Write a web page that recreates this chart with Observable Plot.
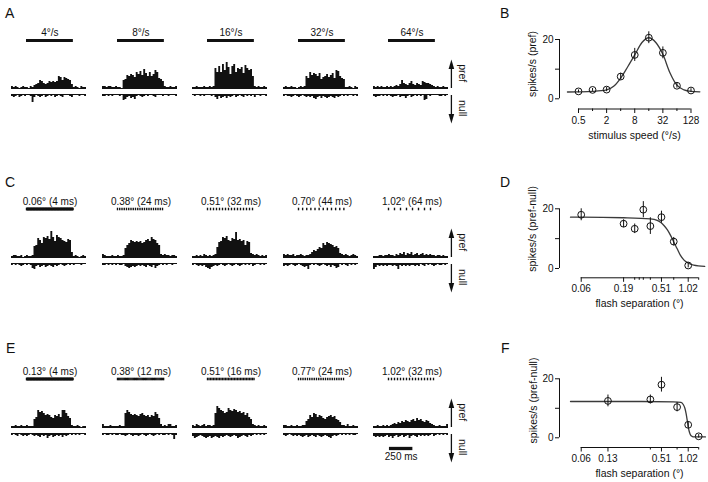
<!DOCTYPE html>
<html><head><meta charset="utf-8">
<script src="https://cdn.jsdelivr.net/npm/d3@7"></script>
<script src="https://cdn.jsdelivr.net/npm/@observablehq/plot@0.6"></script>
<style>
body{margin:0;background:#fff;}
#fig{position:relative;width:708px;height:482px;overflow:hidden;font-family:"Liberation Sans",Arial,Helvetica,sans-serif;color:#111;background:#fff}
.letter{position:absolute;font-size:14px;line-height:1;color:#111}
</style></head><body><div id="fig"></div>
<script>
// ---------------- data ----------------
const binMs = 20, tMax = 800, stimOn = 160, stimOff = 660;

const labelsA = ["4°/s","8°/s","16°/s","32°/s","64°/s"];
const prefA = [
 [2,1,2,1,0,1,2,1,1,0,2,1,3,4,5,8,7,5,4,5,7,6,7,6,7,12,11,8,11,10,9,8,4,1,2,1,0,2,1,1],
 [2,2,1,2,2,1,1,2,1,1,0,8,9,13,12,14,13,11,16,14,17,13,19,15,12,16,12,14,18,16,10,9,7,2,1,1,2,1,1,2],
 [1,1,2,1,1,1,2,1,1,2,1,2,20,16,22,16,24,18,26,21,14,22,24,16,20,19,21,15,23,20,18,19,12,2,1,2,1,1,2,1],
 [1,2,1,1,2,1,1,0,1,2,1,2,12,10,16,13,15,14,12,15,9,11,12,14,11,13,15,10,18,17,12,10,9,1,1,2,1,0,2,1],
 [2,1,2,1,2,1,1,2,1,2,1,2,3,2,4,8,5,4,3,5,7,4,3,5,4,3,7,6,5,5,4,3,2,1,2,1,1,2,1,1]
];
const nullA = [
 [2,3,2,1,3,2,1,2,0,1,2,8,3,1,2,3,2,1,3,2,1,2,1,3,2,1,2,3,1,0,1,2,3,1,0,1,2,1,1,2],
 [2,2,1,2,1,2,1,0,1,2,1,6,5,3,2,4,3,5,2,1,2,3,2,1,2,1,1,2,3,1,0,1,2,1,0,2,1,0,1,2],
 [1,2,1,1,2,1,2,1,0,1,2,1,3,5,2,4,3,2,4,2,3,2,1,3,2,1,2,3,1,2,1,2,1,3,1,0,2,1,1,2],
 [2,1,2,2,3,2,1,2,3,2,1,2,3,2,3,2,4,5,3,2,4,2,3,4,3,2,3,4,2,3,2,1,2,1,2,0,1,2,1,2],
 [2,3,2,2,1,2,1,2,1,2,3,2,2,1,3,2,2,4,2,1,3,2,1,2,1,2,1,6,5,1,2,0,1,0,1,2,2,0,2,1]
];

const labelsC = ["0.06° (4 ms)","0.38° (24 ms)","0.51° (32 ms)","0.70° (44 ms)","1.02° (64 ms)"];
const delaysC = [4,24,32,44,64];
const prefC = [
 [1,2,2,1,1,2,0,1,2,1,1,2,11,12,19,17,14,20,19,21,18,26,20,16,22,20,19,17,16,15,18,17,5,1,2,1,0,1,2,1],
 [3,2,1,1,1,2,1,1,2,1,1,2,9,12,14,17,16,15,16,15,16,14,15,17,18,16,20,18,17,14,12,3,2,3,2,2,1,2,2,1],
 [1,1,2,1,2,1,3,2,1,2,1,2,3,10,15,16,20,19,21,17,16,19,18,25,17,18,16,17,12,16,15,4,3,2,3,2,1,2,1,2],
 [3,2,3,2,2,3,1,2,2,3,2,1,2,2,3,5,7,6,8,10,9,14,12,15,14,13,12,10,11,9,4,3,2,3,2,1,2,3,2,1],
 [1,1,1,2,2,1,2,2,3,2,2,1,3,2,4,3,5,2,4,3,5,2,3,4,2,3,4,2,3,2,3,2,2,1,2,2,1,2,1,1]
];
const nullC = [
 [2,1,2,1,2,3,2,1,2,1,2,5,6,3,2,4,3,2,4,3,2,3,4,2,3,2,1,2,3,2,1,2,1,2,1,0,1,2,1,1],
 [2,2,1,2,1,2,1,2,1,2,2,1,3,4,5,4,3,4,3,2,3,2,3,4,2,3,4,2,5,3,2,1,2,1,2,1,0,2,1,1],
 [2,1,2,3,2,3,2,4,5,6,4,3,2,3,2,1,2,3,2,1,2,3,2,1,2,3,2,1,2,1,2,1,3,2,1,1,2,1,2,1],
 [3,2,3,2,1,2,3,2,1,2,3,4,3,6,2,1,2,1,2,3,2,1,2,3,2,4,2,3,5,4,1,2,1,2,3,1,2,1,2,1],
 [6,4,2,3,2,3,2,3,2,2,3,2,3,6,2,3,2,3,2,3,2,2,3,2,3,1,2,3,1,2,1,2,3,2,1,2,2,1,2,1]
];

const labelsE = ["0.13° (4 ms)","0.38° (12 ms)","0.51° (16 ms)","0.77° (24 ms)","1.02° (32 ms)"];
const delaysE = [4,12,16,24,32];
const prefE = [
 [1,1,2,1,1,2,1,1,2,1,1,1,8,10,17,15,16,14,12,13,12,10,9,12,11,13,10,17,17,14,11,9,2,1,1,2,1,0,1,1],
 [3,1,1,1,2,1,1,1,1,2,1,1,14,17,15,13,12,13,12,11,13,14,12,11,12,10,12,11,15,13,9,3,1,2,1,3,3,1,1,2],
 [2,1,3,2,1,2,3,1,2,2,1,2,14,21,19,17,16,14,15,19,17,16,18,17,15,16,14,15,12,14,10,8,3,2,1,2,1,1,2,1],
 [2,2,1,1,2,1,1,2,1,1,2,2,6,8,12,10,14,13,10,12,11,9,8,10,11,12,10,11,8,7,5,2,2,1,3,1,1,2,1,1],
 [1,1,2,1,1,2,1,2,1,2,3,4,3,5,4,6,5,7,6,5,7,8,6,9,7,8,6,5,7,6,4,3,2,1,1,2,1,1,1,3]
];
const nullE = [
 [2,1,2,3,1,2,3,2,3,2,1,2,3,2,3,4,2,3,2,5,3,2,4,3,2,3,2,4,2,3,2,1,2,1,2,1,2,1,1,2],
 [2,1,2,2,1,2,1,2,2,1,2,2,3,2,1,2,3,2,2,3,2,1,2,3,2,1,2,3,2,1,2,1,2,2,1,2,1,2,6,2],
 [3,5,4,3,2,3,4,5,4,3,5,4,3,4,5,3,4,3,2,3,4,3,2,3,5,4,3,2,3,4,2,3,2,1,2,1,2,1,2,1],
 [2,3,2,1,2,3,2,3,2,3,4,3,2,4,3,2,3,4,2,3,4,3,2,3,4,5,3,2,3,2,1,2,1,2,1,2,1,2,2,1],
 [3,4,3,4,3,4,3,2,4,3,5,3,2,4,3,2,4,3,2,5,3,2,3,4,2,3,2,3,2,3,2,1,3,2,1,2,1,2,1,2]
];

// panel B
const speeds = [0.5,1,2,4,8,16,32,64,128];
const speedResp = [2.5,3.0,3.1,7.5,14.8,20.6,15.5,4.4,2.8];
const speedErr = [0.5,0.5,0.7,1.1,2.2,2.0,2.0,0.8,0.6];
const speedFitX = [0.29,0.5,1,2,2.83,4,5.66,8,11.3,16,22.6,32,45.3,64,90.5,128,198];
const speedFitY = [2.3,2.35,2.5,3.0,4.2,7.0,10.8,14.8,18.9,20.6,19.0,15.0,8.8,4.6,3.0,2.5,2.35];
const speedMajor = [0.5,2,8,32,128], speedMajorLabels = ["0.5","2","8","32","128"];
const speedMinor = [1,4,16,64];

// panel D
const sepD = [0.064,0.192,0.256,0.32,0.384,0.512,0.704,1.024];
const respD = [18.0,15.0,13.3,19.7,14.2,17.2,9.0,1.0];
const errD = [2.0,1.3,1.6,2.7,2.8,2.0,1.4,0.8];
const fitDX = [0.0485,0.064,0.192,0.384,0.458,0.504,0.546,0.595,0.648,0.706,0.77,0.838,0.914,1.013,1.18,1.57];
const fitDY = [17.2,17.2,17.0,16.6,16.1,15.4,14.4,13.0,11.1,8.8,6.6,4.4,2.9,1.9,1.1,0.7];
const sepMajor = [0.064,0.192,0.512,1.024], sepMajorLabelsD = ["0.06","0.19","0.51","1.02"];
const sepMinorD = [0.256,0.288,0.32,0.384,0.704,1.344];

// panel F
const sepF = [0.128,0.384,0.512,0.768,1.024,1.344];
const respF = [12.5,13.0,18.0,10.4,4.4,0.5];
const errF = [2.0,1.5,2.5,1.6,1.0,0.6];
const fitFX = [0.0485,0.3,0.7,0.85,0.9,0.94,0.97,1.0,1.03,1.06,1.09,1.13,1.2,1.6];
const fitFY = [12.3,12.3,12.2,12.0,11.3,10.0,8.2,5.8,3.4,1.8,0.9,0.5,0.3,0.3];
const sepMajorF = [0.064,0.128,0.512,1.024], sepMajorLabelsF = ["0.06","0.13","0.51","1.02"];
const sepMinorF = [0.384,0.768,1.344];

// ---------------- layout ----------------
const FONT = '"Liberation Sans", Arial, Helvetica, sans-serif';
const INK = "#111";
const fig = document.getElementById("fig");
function place(el, left, top) {
  el.style.position = "absolute"; el.style.left = left + "px"; el.style.top = top + "px";
  fig.appendChild(el);
}
function letter(t, left, top) {
  const d = document.createElement("div"); d.className = "letter"; d.textContent = t;
  d.style.left = left + "px"; d.style.top = top + "px"; fig.appendChild(d);
}
const baseStyle = {fontFamily: FONT, fontSize: "10px", color: INK, background: "transparent", overflow: "visible"};

const colLeft = [11, 101.6, 192.2, 282.8, 373.4];
const rowBase = [88.3, 257.3, 427.3];
const histW = 75, histH = 110, baseFromTop = 68;
const nullGap = 6, stimY = 48, stimLabelY = 52.5;

const headUp = {draw(ctx) { ctx.moveTo(0, -4.8); ctx.lineTo(2.8, 4.8); ctx.lineTo(-2.8, 4.8); ctx.closePath(); }};
const headDown = {draw(ctx) { ctx.moveTo(0, 4.8); ctx.lineTo(2.8, -4.8); ctx.lineTo(-2.8, -4.8); ctx.closePath(); }};

function stepPoints(vals) {
  const pts = vals.map((v, i) => ({t: i * binMs, v}));
  pts.push({t: vals.length * binMs, v: vals[vals.length - 1]});
  return pts;
}

function histogram(pref, nul, label, delay, col, scaleBar) {
  const extra = col === 4 ? 30 : 0;
  const marks = [
    Plot.areaY(stepPoints(pref), {x: "t", y1: 0, y2: "v", curve: "step-after", fill: INK}),
    Plot.areaY(stepPoints(nul), {x: "t", y1: -nullGap, y2: d => -nullGap - d.v, curve: "step-after", fill: INK}),
    Plot.ruleY([0], {x1: 0, x2: tMax, stroke: INK, strokeWidth: 1.1}),
    Plot.ruleY([-nullGap], {x1: 0, x2: tMax, stroke: INK, strokeWidth: 1.1}),
    Plot.text([label], {x: (stimOn + stimOff) / 2, y: stimLabelY, lineAnchor: "bottom", fontSize: 10, fill: INK})
  ];
  if (delay == null) {
    marks.push(Plot.ruleY([stimY], {x1: stimOn, x2: stimOff, stroke: INK, strokeWidth: 3}));
  } else {
    marks.push(Plot.ruleX(d3.range(stimOn, stimOff, delay), {y1: stimY - 1.3, y2: stimY + 1.3, stroke: INK, strokeWidth: 1.4}));
  }
  if (col === 4) {
    const adx = 2.9, tdx = 13.6;
    marks.push(
      Plot.ruleX([tMax], {y1: 0, y2: 22, dx: adx, stroke: INK, strokeWidth: 1.3}),
      Plot.dot([tMax], {x: d => d, y: 24.2, dx: adx, symbol: headUp, fill: INK, stroke: "none"}),
      Plot.ruleX([tMax], {y1: -nullGap - 1, y2: -nullGap - 23, dx: adx, stroke: INK, strokeWidth: 1.3}),
      Plot.dot([tMax], {x: d => d, y: -nullGap - 24.2, dx: adx, symbol: headDown, fill: INK, stroke: "none"}),
      Plot.text(["pref"], {x: tMax, y: 15.3, dx: tdx, rotate: 90, fontSize: 10.5, fill: INK}),
      Plot.text(["null"], {x: tMax, y: -nullGap - 13.7, dx: tdx, rotate: 90, fontSize: 10.5, fill: INK})
    );
  }
  if (scaleBar) {
    marks.push(
      Plot.ruleY([-21], {x1: 170, x2: 170 + scaleBar, stroke: INK, strokeWidth: 3.3}),
      Plot.text([`${scaleBar} ms`], {x: 170 + scaleBar / 2, y: -32.7, lineAnchor: "bottom", fontSize: 10, fill: INK})
    );
  }
  return Plot.plot({
    width: histW + extra, height: histH,
    marginLeft: 0, marginRight: extra, marginTop: 0, marginBottom: 0,
    x: {domain: [0, tMax], axis: null},
    y: {domain: [baseFromTop - histH, baseFromTop], range: [histH, 0], axis: null},
    style: baseStyle,
    marks
  });
}

const rows = [
  {pref: prefA, nul: nullA, labels: labelsA, delays: null},
  {pref: prefC, nul: nullC, labels: labelsC, delays: delaysC},
  {pref: prefE, nul: nullE, labels: labelsE, delays: delaysE}
];
rows.forEach((r, ri) => {
  for (let c = 0; c < 5; c++) {
    const sb = (ri === 2 && c === 4) ? 250 : null;
    const svg = histogram(r.pref[c], r.nul[c], r.labels[c], r.delays ? r.delays[c] : null, c, sb);
    place(svg, colLeft[c], rowBase[ri] - baseFromTop);
  }
});

function tuning(o) {
  const pts = o.xs.map((x, i) => ({x, y: o.ys[i], e: o.es[i]}));
  const fit = o.fitX.map((x, i) => ({x, y: o.fitY[i]}));
  return Plot.plot({
    width: 188, height: o.height,
    marginLeft: 39, marginRight: 3, marginTop: o.marginTop, marginBottom: o.marginBottom,
    x: {type: "log", domain: o.domainX, axis: null},
    y: {domain: o.domainY, axis: null},
    style: baseStyle,
    marks: [
      Plot.axisY({ticks: [0, 10, 20], tickSize: 4, tickPadding: 2, tickFormat: d => d === 10 ? "" : `${d}`, label: null}),
      Plot.ruleX([o.domainX[0]], {y1: 0, y2: 20, stroke: INK}),
      Plot.axisX({ticks: o.minor, tickSize: 2.5, tickFormat: () => "", label: null}),
      Plot.axisX({ticks: o.major, tickSize: 4.5, tickFormat: () => "", label: null}),
      Plot.text(o.major, {x: d => d, text: (d, i) => o.majorLabels[i], frameAnchor: "bottom", lineAnchor: "top", dy: 7.5, fontSize: 10, fill: INK}),
      Plot.ruleY([o.domainY[0]], {x1: o.axisExtent[0], x2: o.axisExtent[1], stroke: INK}),
      Plot.line(fit, {x: "x", y: "y", curve: "monotone-x", stroke: "#3a3a3a", strokeWidth: 1.3}),
      Plot.ruleX(pts, {x: "x", y1: d => d.y - d.e, y2: d => d.y + d.e, stroke: INK, strokeWidth: 1}),
      Plot.dot(pts, {x: "x", y: "y", r: 3.4, stroke: INK, fill: "none", strokeWidth: 1}),
      Plot.text([o.yTitle], {frameAnchor: "left", textAnchor: "middle", lineAnchor: "middle", rotate: -90, dx: o.yDx, dy: o.yDy, fontSize: 10.5, fill: INK}),
      Plot.text([o.xTitle], {frameAnchor: "bottom", textAnchor: "middle", lineAnchor: "bottom", dx: o.xDx, dy: o.xDy, fontSize: 10.5, fill: INK})
    ]
  });
}

place(tuning({
  height: 145, marginTop: 30, marginBottom: 36.5,
  domainX: [0.196, 261.6], domainY: [-3.44, 23.04],
  major: speedMajor, majorLabels: speedMajorLabels, minor: speedMinor, axisExtent: [0.5, 128],
  xs: speeds, ys: speedResp, es: speedErr, fitX: speedFitX, fitY: speedFitY,
  yTitle: "spikes/s (pref)", xTitle: "stimulus speed (°/s)",
  yDx: -27.3, yDy: -5.8, xDx: 2, xDy: 29.5
}), 520, 0);

place(tuning({
  height: 150, marginTop: 40, marginBottom: 32.7,
  domainX: [0.03647, 1.603], domainY: [-3.12, 22.78],
  major: sepMajor, majorLabels: sepMajorLabelsD, minor: sepMinorD, axisExtent: [0.064, 1.344],
  xs: sepD, ys: respD, es: errD, fitX: fitDX, fitY: fitDY,
  yTitle: "spikes/s (pref-null)", xTitle: "flash separation (°)",
  yDx: -27.3, yDy: -10.3, xDx: 7, xDy: 28.7
}), 520, 160);

place(tuning({
  height: 150, marginTop: 40, marginBottom: 33,
  domainX: [0.03647, 1.603], domainY: [-3.29, 22.81],
  major: sepMajorF, majorLabels: sepMajorLabelsF, minor: sepMinorF, axisExtent: [0.064, 1.344],
  xs: sepF, ys: respF, es: errF, fitX: fitFX, fitY: fitFY,
  yTitle: "spikes/s (pref-null)", xTitle: "flash separation (°)",
  yDx: -26.3, yDy: -8.5, xDx: 7, xDy: 29
}), 520, 330);

letter("A", 5, 6.4);
letter("B", 500, 6.4);
letter("C", 5, 175);
letter("D", 500, 175);
letter("E", 6, 341);
letter("F", 501, 341);
</script></body></html>
